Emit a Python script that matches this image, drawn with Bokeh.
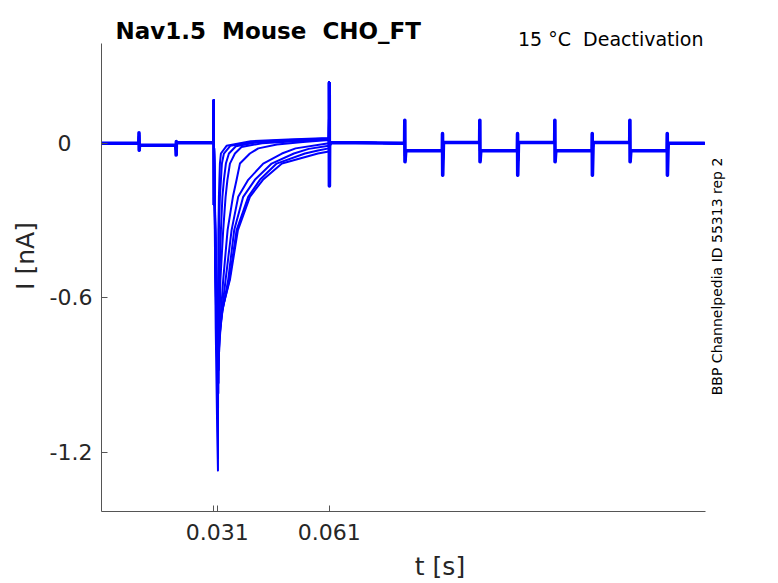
from bokeh.plotting import figure
from bokeh.models import Label, FixedTicker, Range1d
from bokeh.embed import file_html
from bokeh.resources import INLINE

# ---------------- data ----------------
# shared part of every sweep before the test pulse
pre_t = [0.0, 0.0100, 0.01005, 0.0101, 0.01015, 0.0102, 0.0199, 0.0200, 0.02005, 0.0201, 0.0202, 0.0299]
pre_i = [0.0, 0.0, 0.040, -0.027, -0.010, -0.008, -0.008, -0.046, 0.006, 0.002, 0.002, 0.002]

# capacitive spike at the start of the pulse
spike_t = [0.0300, 0.03005, 0.0301, 0.03015]
spike_i = [0.002, 0.167, -0.240, -0.020]

# tail currents of the nine sweeps
s1_t = [0.0302, 0.0306, 0.0310, 0.0312, 0.03126, 0.03132, 0.03145, 0.03158, 0.03172, 0.03199, 0.0335, 0.0400, 0.0500, 0.0609]
s1_i = [-0.10, -0.72, -1.12, -1.27, -0.53, -0.337, -0.208, -0.142, -0.079, -0.04, -0.010, 0.008, 0.014, 0.020]
s2_t = [0.0302, 0.0306, 0.0310, 0.0313, 0.03140, 0.03145, 0.03172, 0.03199, 0.03225, 0.03279, 0.0345, 0.0410, 0.0500, 0.0609]
s2_i = [-0.09, -0.58, -0.88, -0.97, -0.53, -0.337, -0.208, -0.142, -0.079, -0.04, -0.010, 0.006, 0.012, 0.018]
s3_t = [0.0302, 0.0306, 0.0310, 0.03135, 0.03158, 0.03199, 0.03239, 0.03279, 0.03332, 0.03413, 0.0360, 0.0420, 0.0500, 0.0609]
s3_i = [-0.09, -0.55, -0.85, -0.93, -0.53, -0.337, -0.208, -0.142, -0.079, -0.04, -0.012, 0.004, 0.010, 0.016]
s4_t = [0.0302, 0.0306, 0.0310, 0.0314, 0.03185, 0.03260, 0.03324, 0.03373, 0.03440, 0.03574, 0.0375, 0.0430, 0.0520, 0.0609]
s4_i = [-0.08, -0.52, -0.80, -0.88, -0.53, -0.337, -0.208, -0.142, -0.079, -0.04, -0.015, 0.000, 0.008, 0.014]
s5_t = [0.0302, 0.0306, 0.0310, 0.0314, 0.0319, 0.03260, 0.03378, 0.03520, 0.03619, 0.03708, 0.03975, 0.0420, 0.0470, 0.0540, 0.0609]
s5_i = [-0.08, -0.50, -0.77, -0.84, -0.68, -0.53, -0.337, -0.208, -0.142, -0.079, -0.04, -0.020, -0.005, 0.005, 0.012]
s6_t = [0.0302, 0.0306, 0.0310, 0.03145, 0.0322, 0.03324, 0.03485, 0.03662, 0.03930, 0.04332, 0.04833, 0.0520, 0.0609]
s6_i = [-0.07, -0.48, -0.74, -0.80, -0.66, -0.53, -0.337, -0.208, -0.142, -0.079, -0.04, -0.020, 0.000]
s7_t = [0.0302, 0.0306, 0.0310, 0.03145, 0.0324, 0.03394, 0.03555, 0.03796, 0.04109, 0.04557, 0.05154, 0.0555, 0.0609]
s7_i = [-0.07, -0.46, -0.71, -0.77, -0.65, -0.53, -0.337, -0.208, -0.142, -0.079, -0.04, -0.022, -0.010]
s8_t = [0.0302, 0.0306, 0.0310, 0.0315, 0.0325, 0.03426, 0.03619, 0.03930, 0.04243, 0.04691, 0.05449, 0.0580, 0.0609]
s8_i = [-0.07, -0.44, -0.68, -0.74, -0.64, -0.53, -0.337, -0.208, -0.142, -0.079, -0.04, -0.028, -0.020]
s9_t = [0.0302, 0.0306, 0.0310, 0.0315, 0.0326, 0.03440, 0.03654, 0.03975, 0.04324, 0.04833, 0.05797, 0.0609]
s9_i = [-0.06, -0.42, -0.65, -0.71, -0.63, -0.53, -0.337, -0.208, -0.142, -0.079, -0.04, -0.032]

# shared part of every sweep after the pulse (steps with transients)
post_t = [0.0610, 0.06105, 0.0611, 0.0614,
          0.0812, 0.08125, 0.0813, 0.0815,
          0.0913, 0.09135, 0.0914, 0.0916,
          0.1013, 0.10135, 0.1014, 0.1016,
          0.1114, 0.11145, 0.1115, 0.1117,
          0.1214, 0.12145, 0.1215, 0.1217,
          0.1314, 0.13145, 0.1315, 0.1317,
          0.1415, 0.14155, 0.1416, 0.1418,
          0.1515, 0.15155, 0.1516, 0.1518,
          0.1616]
post_i = [0.236, -0.166, -0.010, 0.003,
          0.000, 0.089, -0.072, -0.029,
          -0.029, 0.037, -0.124, 0.003,
          0.003, 0.089, -0.072, -0.029,
          -0.029, 0.037, -0.124, 0.003,
          0.003, 0.089, -0.072, -0.029,
          -0.029, 0.037, -0.124, 0.003,
          0.003, 0.089, -0.072, -0.029,
          -0.029, 0.037, -0.124, 0.000,
          0.000]

x_ticks = [0.030, 0.031, 0.061]
x_tick_labels = ["", "0.031", "0.061"]
y_ticks = [-1.2, -0.6, 0.0]
y_tick_labels = ["-1.2", "-0.6", "0\u00a0\u00a0\u00a0"]

title_text = "Nav1.5 \u00a0Mouse \u00a0CHO_FT"
info_text = "15 °C \u00a0Deactivation"
side_text = "BBP Channelpedia ID 55313 rep 2"

tails_t = [s1_t, s2_t, s3_t, s4_t, s5_t, s6_t, s7_t, s8_t, s9_t]
tails_i = [s1_i, s2_i, s3_i, s4_i, s5_i, s6_i, s7_i, s8_i, s9_i]
xs = [pre_t + spike_t + tt + post_t for tt in tails_t]
ys = [pre_i + spike_i + ti + post_i for ti in tails_i]

# ---------------- figure ----------------
FONT = "DejaVu Sans"
TXT = "#262626"
X0, X1 = 0.0, 0.1618          # visible axis extent (s)
Y0, Y1 = -1.4286, 0.3871      # visible axis extent (nA)
PX = 3733.0                   # pixels per second
PY = 258.3                    # pixels per nA

W, H = 778, 583
FL, FT, FR, FB = 101, 43, 705, 512   # axes box in page pixels

# the drawing frame reaches the top and right edges so that the texts there are not clipped;
# the axes themselves are bounded to the original box
XR = X1 + (W - FR) / PX
YT = Y1 + FT / PY

p = figure(width=W, height=H, output_backend="svg", toolbar_location=None,
           x_range=Range1d(X0, XR), y_range=Range1d(Y0, YT),
           min_border_left=FL, min_border_right=0,
           min_border_top=0, min_border_bottom=H - FB)
p.outline_line_color = None
p.xgrid.visible = False
p.ygrid.visible = False
p.background_fill_color = "white"
p.border_fill_color = "white"

BLUE = "#0000ff"
p.multi_line(xs, ys, line_color=BLUE, line_width=2.0, line_join="round")
p.line(pre_t, pre_i, line_color=BLUE, line_width=3.6, line_join="round")
p.line(post_t, post_i, line_color=BLUE, line_width=3.6, line_join="round")

for ax in (p.xaxis[0], p.yaxis[0]):
    ax.axis_line_color = "#555555"
    ax.axis_line_width = 1
    ax.major_tick_line_color = "#555555"
    ax.major_tick_in = 6
    ax.major_tick_out = 0
    ax.minor_tick_line_color = None
    ax.major_label_text_font = FONT
    ax.major_label_text_font_size = "22px"
    ax.major_label_text_color = TXT
    ax.axis_label_text_font = FONT
    ax.axis_label_text_font_size = "25px"
    ax.axis_label_text_font_style = "normal"
    ax.axis_label_text_color = TXT

p.xaxis.bounds = (X0, X1)
p.xaxis.ticker = FixedTicker(ticks=x_ticks)
p.xaxis.major_label_overrides = dict(zip(x_ticks, x_tick_labels))
p.xaxis.major_label_standoff = 12
p.xaxis.axis_label = "t [s]"
p.xaxis.axis_label_standoff = 9

p.yaxis.bounds = (Y0, Y1)
p.yaxis.ticker = FixedTicker(ticks=y_ticks)
p.yaxis.major_label_overrides = dict(zip(y_ticks, y_tick_labels))
p.yaxis.major_label_standoff = 9
p.yaxis.axis_label = "I [nA]"
p.yaxis.axis_label_standoff = 7


def dx(px):
    return X0 + (px - FL) / PX


def dy(py):
    return Y1 - (py - FT) / PY


def add_text(px, py, text, size, **kw):
    p.add_layout(Label(x=dx(px), y=dy(py), text=text, text_font=FONT, text_font_size=size, **kw))


add_text(115, 31, title_text, "23px", text_font_style="bold", text_color="black",
         text_align="left", text_baseline="alphabetic")
add_text(703, 39, info_text, "19px", text_color="black",
         text_align="right", text_baseline="alphabetic")
add_text(716, 276.5, side_text, "14px", text_color="black",
         angle=1.5707963, text_align="center", text_baseline="middle")

open("out.html", "w").write(file_html(p, INLINE))
